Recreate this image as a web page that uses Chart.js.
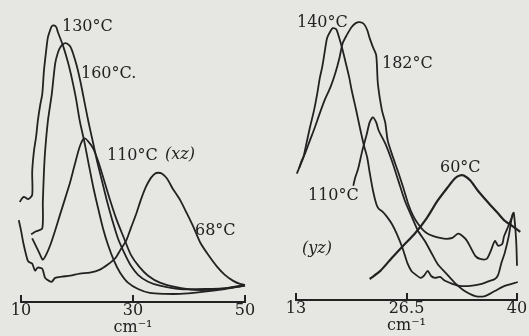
<!DOCTYPE html>
<html><head><meta charset="utf-8">
<script src="https://cdn.jsdelivr.net/npm/chart.js@4/dist/chart.umd.min.js"></script>
<style>
html,body{margin:0;padding:0;background:#e6e6e2;}
#wrap{position:relative;width:529px;height:336px;overflow:hidden;background:#e6e6e2;}
canvas{position:absolute;top:0;}
</style></head><body>
<div id="wrap"><canvas id="c1" width="265" height="336" style="left:0px"></canvas><canvas id="c2" width="264" height="336" style="left:265px"></canvas></div>
<script>
// ---- tick labels ----
const xzTicks = [10, 30, 50];
const yzTicks = [13, 26.5, 40];
const axisTitle = 'cm⁻¹';

// ---- (xz) panel series: [wavenumber cm-1, relative intensity] ----
const xz130 = [[9.6,30.4],[9.8,33.1],[10.5,34.8],[11.3,34.1],[12.0,35.5],[12.0,43.1],[12.3,49.8],[12.7,54.8],[13.0,59.9],[13.4,64.9],[13.8,68.9],[14.1,76.6],[14.5,83.3],[14.8,87.6],[15.2,90.0],[15.5,91.3],[15.9,91.6],[16.3,91.0],[16.6,89.3],[17.5,84.9],[18.4,79.3],[19.1,73.9],[19.8,67.6],[20.5,59.9],[21.3,53.2],[22.0,46.5],[22.9,38.1],[23.8,30.8],[24.6,24.7],[25.5,19.1],[26.6,13.7],[27.7,9.7],[29.1,6.4],[30.9,4.3],[33.0,3.0],[35.7,2.7],[38.4,2.7],[42.0,3.3],[46.4,4.3],[50.0,5.4]];
const xz160 = [[11.8,22.4],[12.7,23.4],[13.8,24.4],[13.9,33.1],[14.1,43.1],[14.3,49.8],[14.8,59.9],[15.5,68.9],[16.1,78.9],[16.6,82.6],[17.1,84.6],[17.7,85.6],[18.2,85.6],[18.8,84.6],[19.3,82.3],[20.0,77.9],[20.7,72.2],[21.4,65.6],[22.1,59.2],[22.9,52.5],[23.6,46.5],[24.5,39.8],[25.4,33.1],[26.3,27.1],[27.3,21.1],[28.4,16.4],[29.5,12.4],[30.9,9.0],[32.7,6.7],[34.8,5.4],[38.4,4.3],[42.9,4.3],[47.3,4.7],[50.0,5.4]];
const xz110 = [[12.0,21.1],[12.7,18.4],[13.4,15.7],[13.9,14.0],[14.5,15.7],[15.2,18.7],[16.1,23.7],[17.0,29.1],[17.9,34.4],[18.8,39.8],[19.6,45.5],[20.5,51.5],[21.3,54.2],[22.0,53.2],[22.9,50.8],[23.8,46.5],[24.8,40.5],[25.9,33.8],[27.1,27.1],[28.4,21.1],[29.6,15.7],[31.1,11.7],[32.7,8.7],[34.8,6.4],[37.5,5.0],[41.1,4.0],[45.5,4.3],[50.0,5.7]];
const xz68 = [[9.6,27.1],[10.0,23.7],[10.4,19.7],[10.9,15.7],[11.3,13.4],[12.0,12.7],[12.5,10.4],[13.0,11.4],[13.8,11.0],[14.3,8.0],[15.0,7.0],[15.5,6.7],[16.1,8.0],[17.3,8.4],[18.8,8.7],[20.5,9.4],[22.3,9.7],[24.1,10.7],[25.5,12.4],[26.8,14.4],[27.7,17.1],[28.8,20.4],[29.6,24.4],[30.5,28.8],[31.4,33.8],[32.3,38.1],[33.2,41.1],[33.9,42.5],[34.5,42.8],[35.2,42.5],[36.1,40.8],[37.1,37.5],[38.4,33.8],[39.6,29.4],[40.9,24.4],[42.0,19.7],[43.4,15.7],[45.0,11.7],[46.4,9.0],[47.9,7.0],[49.1,6.0],[50.0,5.7]];

// ---- (yz) panel series ----
const yz140 = [[13.1,42.1],[13.5,44.8],[13.9,47.5],[14.3,52.5],[14.7,57.5],[15.2,63.2],[15.6,68.9],[15.9,73.9],[16.2,77.6],[16.5,82.6],[16.8,87.3],[17.2,89.6],[17.5,90.6],[17.9,90.3],[18.1,89.0],[18.6,84.3],[19.0,79.9],[19.5,74.2],[19.8,69.9],[20.3,63.9],[20.8,57.5],[21.3,51.5],[21.7,47.5],[22.0,42.5],[22.4,36.5],[22.8,32.1],[23.1,30.4],[23.6,29.4],[24.1,27.8],[24.7,25.4],[25.3,22.1],[26.0,17.4],[26.6,12.4],[27.1,9.7],[27.5,8.7],[28.2,7.4],[28.6,8.0],[29.1,9.7],[29.5,8.0],[30.0,7.4],[30.6,7.7],[31.2,6.4],[32.1,5.4],[33.0,4.7],[34.3,4.7],[35.7,5.4],[36.7,6.4],[37.3,7.0],[37.7,8.4],[38.1,12.4],[38.5,15.7],[39.0,21.4],[39.4,28.1],[39.6,29.1],[39.9,19.7],[40.0,11.4],[40.1,4.0]];
const yz182 = [[13.4,44.1],[13.7,46.5],[14.1,48.8],[14.7,53.2],[15.3,57.5],[15.9,62.2],[16.5,66.6],[17.2,70.9],[17.8,75.6],[18.3,80.6],[18.7,85.6],[19.2,88.3],[19.8,91.0],[20.3,92.3],[20.8,92.6],[21.3,92.0],[21.7,90.0],[22.0,87.3],[22.4,84.3],[22.8,81.6],[23.0,72.2],[23.5,63.2],[23.9,59.2],[24.2,53.2],[24.7,48.8],[25.5,42.5],[26.1,37.5],[26.7,32.1],[27.3,28.1],[27.9,25.4],[28.5,23.4],[29.1,22.1],[29.7,21.4],[30.6,20.7],[31.4,20.4],[32.1,20.7],[32.8,22.1],[33.3,21.4],[33.9,19.7],[34.9,14.7],[35.5,13.7],[36.3,13.7],[36.8,16.4],[37.3,19.7],[37.7,18.1],[38.2,18.7],[38.4,21.1],[38.8,23.7],[39.2,26.4],[39.6,28.8]];
const yz110 = [[20.0,38.1],[20.2,40.5],[20.6,43.8],[21.1,49.8],[21.6,54.8],[22.0,59.2],[22.4,60.9],[22.8,59.2],[23.1,56.5],[23.9,52.2],[24.7,46.5],[25.5,39.8],[26.3,33.1],[27.2,27.4],[27.9,23.1],[28.8,19.4],[29.6,15.4],[30.3,12.0],[31.4,8.7],[32.4,5.7],[33.6,3.0],[34.9,1.3],[36.1,1.3],[37.3,3.0],[38.5,4.7],[40.1,6.0]];
const yz60 = [[22.0,7.0],[23.3,9.7],[24.7,14.0],[26.1,18.1],[27.5,22.1],[29.0,27.4],[30.3,33.1],[31.6,37.8],[32.4,40.5],[33.0,41.5],[33.5,41.5],[34.3,39.8],[35.2,36.5],[36.5,32.4],[37.7,28.8],[38.5,26.4],[39.4,24.7],[40.4,22.7],[41.3,20.7]];

const INK = '#222222';
const FONT = '"DejaVu Serif", "Liberation Serif", serif';

function ds(points, w) {
  return {
    data: points.map(p => ({x: p[0], y: p[1]})),
    borderColor: INK, borderWidth: w || 1.8, pointRadius: 0,
    tension: 0.25, fill: false, clip: false
  };
}

const tickMarks = {
  id: 'tickMarks',
  afterDraw(chart, args, opts) {
    const sx = chart.scales.x, ctx = chart.ctx, b = chart.chartArea.bottom;
    ctx.save();
    ctx.strokeStyle = INK; ctx.lineWidth = 2;
    opts.values.forEach(v => {
      const x = Math.round(sx.getPixelForValue(v));
      ctx.beginPath(); ctx.moveTo(x, b); ctx.lineTo(x, b - 7); ctx.stroke();
    });
    ctx.restore();
  }
};
const curveLabels = {
  id: 'curveLabels',
  afterDraw(chart, args, opts) {
    const ctx = chart.ctx;
    ctx.save();
    ctx.fillStyle = INK; ctx.textBaseline = 'alphabetic'; ctx.textAlign = 'left';
    opts.items.forEach(it => {
      ctx.font = (it.italic ? 'italic ' : '') + '16px ' + FONT;
      ctx.fillText(it.text, it.x, it.y);
    });
    ctx.restore();
  }
};

function makeChart(id, sets, ticks, min, max, pad, labels) {
  new Chart(document.getElementById(id), {
    type: 'line',
    data: { datasets: sets },
    options: {
      responsive: false, animation: false, devicePixelRatio: 1,
      layout: { padding: pad },
      plugins: { legend: {display: false}, tooltip: {enabled: false},
        tickMarks: { values: ticks }, curveLabels: { items: labels } },
      scales: {
        x: {
          type: 'linear', min: min, max: max,
          afterBuildTicks: s => { s.ticks = ticks.map(v => ({value: v})); },
          grid: { display: false, drawTicks: false },
          border: { display: true, color: INK, width: 2 },
          ticks: { color: INK, padding: 1, maxRotation: 0, autoSkip: false,
            font: { family: FONT, size: 16, lineHeight: 1 },
            callback: v => String(v) },
          title: { display: true, text: axisTitle, color: INK,
            font: { family: FONT, size: 16, lineHeight: 1 }, padding: { top: 0, bottom: 0 } }
        },
        y: { display: false, min: 0, max: 100 }
      }
    },
    plugins: [tickMarks, curveLabels]
  });
}

makeChart('c1', [ds(xz130), ds(xz160), ds(xz110), ds(xz68)], xzTicks, 10, 50,
  { left: 21, right: 20, top: 0, bottom: 0 },
  [ {text: '130°C', x: 62, y: 31}, {text: '160°C.', x: 81, y: 78},
    {text: '110°C', x: 107, y: 160}, {text: '(xz)', x: 165, y: 159, italic: true},
    {text: '68°C', x: 195, y: 235} ]);

makeChart('c2', [ds(yz140), ds(yz182), ds(yz110), ds(yz60, 2.2)], yzTicks, 13, 40,
  { left: 31, right: 12, top: 0, bottom: 2 },
  [ {text: '140°C', x: 32, y: 27}, {text: '182°C', x: 117, y: 68},
    {text: '110°C', x: 43, y: 200}, {text: '(yz)', x: 37, y: 253, italic: true},
    {text: '60°C', x: 175, y: 172} ]);
</script>
</body></html>
